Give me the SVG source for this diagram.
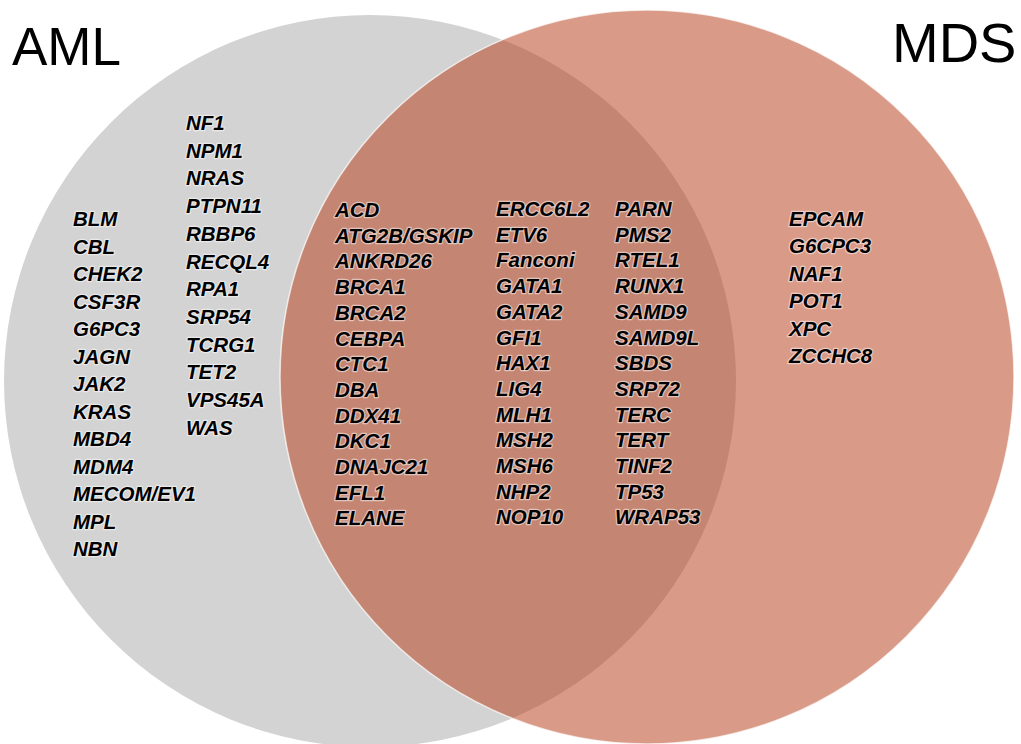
<svg xmlns="http://www.w3.org/2000/svg" width="1021" height="744" viewBox="0 0 1021 744">
<style>
.title{font-family:"Liberation Sans",Arial,sans-serif;font-size:53px;fill:#000}
.gene{font-family:"Liberation Sans",Arial,sans-serif;font-size:20.5px;font-style:italic;font-weight:bold;fill:#000;stroke:#fff;stroke-opacity:0.5;stroke-width:2.5;paint-order:stroke;stroke-linejoin:round}
</style>
<rect width="1021" height="744" fill="#fff"/>
<g id="aml-set">
<circle cx="370" cy="381" r="366" fill="#d3d3d3"/>
</g>
<g id="mds-set">
<circle cx="647" cy="377" r="367" fill="rgb(182,62,24)" fill-opacity="0.52" stroke="#fff" stroke-opacity="0.7" stroke-width="1.5"/>
</g>
<g id="connectors"></g>
<g id="label-aml"><text class="title" x="12" y="65">AML</text></g>
<g id="label-mds"><text class="title" x="892" y="62" style="font-size:56px">MDS</text></g>
<g id="aml-only-col1">
<text class="gene" x="73" y="226">BLM<tspan x="73" dy="27.5">CBL</tspan><tspan x="73" dy="27.5">CHEK2</tspan><tspan x="73" dy="27.5">CSF3R</tspan><tspan x="73" dy="27.5">G6PC3</tspan><tspan x="73" dy="27.5">JAGN</tspan><tspan x="73" dy="27.5">JAK2</tspan><tspan x="73" dy="27.5">KRAS</tspan><tspan x="73" dy="27.5">MBD4</tspan><tspan x="73" dy="27.5">MDM4</tspan><tspan x="73" dy="27.5">MECOM/EV1</tspan><tspan x="73" dy="27.5">MPL</tspan><tspan x="73" dy="27.5">NBN</tspan></text>
</g>
<g id="aml-only-col2">
<text class="gene" x="186" y="130">NF1<tspan x="186" dy="27.7">NPM1</tspan><tspan x="186" dy="27.7">NRAS</tspan><tspan x="186" dy="27.7">PTPN11</tspan><tspan x="186" dy="27.7">RBBP6</tspan><tspan x="186" dy="27.7">RECQL4</tspan><tspan x="186" dy="27.7">RPA1</tspan><tspan x="186" dy="27.7">SRP54</tspan><tspan x="186" dy="27.7">TCRG1</tspan><tspan x="186" dy="27.7">TET2</tspan><tspan x="186" dy="27.7">VPS45A</tspan><tspan x="186" dy="27.7">WAS</tspan></text>
</g>
<g id="shared-col1">
<text class="gene" x="335" y="217">ACD<tspan x="335" dy="25.7">ATG2B/GSKIP</tspan><tspan x="335" dy="25.7">ANKRD26</tspan><tspan x="335" dy="25.7">BRCA1</tspan><tspan x="335" dy="25.7">BRCA2</tspan><tspan x="335" dy="25.7">CEBPA</tspan><tspan x="335" dy="25.7">CTC1</tspan><tspan x="335" dy="25.7">DBA</tspan><tspan x="335" dy="25.7">DDX41</tspan><tspan x="335" dy="25.7">DKC1</tspan><tspan x="335" dy="25.7">DNAJC21</tspan><tspan x="335" dy="25.7">EFL1</tspan><tspan x="335" dy="25.7">ELANE</tspan></text>
</g>
<g id="shared-col2">
<text class="gene" x="496" y="216">ERCC6L2<tspan x="496" dy="25.7">ETV6</tspan><tspan x="496" dy="25.7">Fanconi</tspan><tspan x="496" dy="25.7">GATA1</tspan><tspan x="496" dy="25.7">GATA2</tspan><tspan x="496" dy="25.7">GFI1</tspan><tspan x="496" dy="25.7">HAX1</tspan><tspan x="496" dy="25.7">LIG4</tspan><tspan x="496" dy="25.7">MLH1</tspan><tspan x="496" dy="25.7">MSH2</tspan><tspan x="496" dy="25.7">MSH6</tspan><tspan x="496" dy="25.7">NHP2</tspan><tspan x="496" dy="25.7">NOP10</tspan></text>
</g>
<g id="shared-col3">
<text class="gene" x="615" y="216">PARN<tspan x="615" dy="25.7">PMS2</tspan><tspan x="615" dy="25.7">RTEL1</tspan><tspan x="615" dy="25.7">RUNX1</tspan><tspan x="615" dy="25.7">SAMD9</tspan><tspan x="615" dy="25.7">SAMD9L</tspan><tspan x="615" dy="25.7">SBDS</tspan><tspan x="615" dy="25.7">SRP72</tspan><tspan x="615" dy="25.7">TERC</tspan><tspan x="615" dy="25.7">TERT</tspan><tspan x="615" dy="25.7">TINF2</tspan><tspan x="615" dy="25.7">TP53</tspan><tspan x="615" dy="25.7">WRAP53</tspan></text>
</g>
<g id="mds-only">
<text class="gene" x="789" y="226">EPCAM<tspan x="789" dy="27.4">G6CPC3</tspan><tspan x="789" dy="27.4">NAF1</tspan><tspan x="789" dy="27.4">POT1</tspan><tspan x="789" dy="27.4">XPC</tspan><tspan x="789" dy="27.4">ZCCHC8</tspan></text>
</g>
</svg>
